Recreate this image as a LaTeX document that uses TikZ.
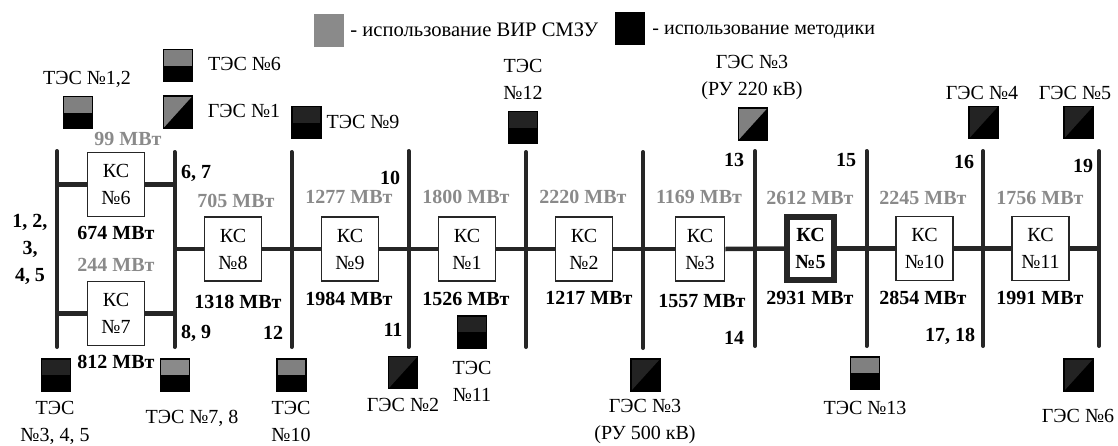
\documentclass[tikz,border=0pt]{standalone}
\usepackage{fontspec}
\setmainfont{Liberation Serif}
\usetikzlibrary{positioning}
\definecolor{busdark}{HTML}{262626}
\definecolor{virgray}{HTML}{8A8A8A}
\definecolor{icongray}{HTML}{808080}
\definecolor{icondark}{HTML}{232323}

\begin{document}
\begin{tikzpicture}[
  x=1pt,y=-1pt,
  every node/.style={inner sep=0pt,font=\fontsize{20}{27}\selectfont,align=center},
  kstan/.style={draw=busdark,line width=1.8pt,fill=white,minimum width=57pt,minimum height=64pt},
  kstanmain/.style={draw=busdark,line width=6pt,fill=white,minimum width=47pt,minimum height=63pt,font=\fontsize{20}{27}\selectfont\bfseries},
  tes/.style={draw=black,line width=1.5pt,fill=black,minimum width=29pt,minimum height=32pt,
    path picture={\fill[#1] (path picture bounding box.north west) rectangle (path picture bounding box.east);}},
  ges/.style={draw=black,line width=1.5pt,fill=black,minimum width=29pt,minimum height=32pt,
    path picture={\fill[#1] (path picture bounding box.north west) -- (path picture bounding box.north east) -- (path picture bounding box.south west) -- cycle;}},
  legend/.style={minimum width=30pt,minimum height=33pt},
  vir/.style={text=virgray,font=\fontsize{20}{27}\selectfont\bfseries},
  met/.style={font=\fontsize{20}{27}\selectfont\bfseries},
  lineno/.style={font=\fontsize{20}{27}\selectfont\bfseries},
  link/.style={draw=busdark,line width=4.5pt},
  bus/.style={draw=busdark,line width=4pt,line cap=round}
]
  \useasboundingbox (0,0) rectangle (1118,445);

  \node[legend,fill=virgray] (legvir) at (329,30.5) {};
  \node[right=6pt of legvir,yshift=1pt,font=\fontsize{20.6}{27}\selectfont] (legvirtext) {- использование ВИР СМЗУ};
  \node[legend,fill=black] (legmet) at (630,28.5) {};
  \node[right=7pt of legmet,yshift=-3pt] (legmettext) {- использование методики};

  \coordinate (bus1t) at (57,151);      \coordinate (bus1b) at (57,347);
  \coordinate (bus2t) at (174.5,152);   \coordinate (bus2b) at (174.5,347);
  \coordinate (bus3t) at (291.5,152);   \coordinate (bus3b) at (291.5,347);
  \coordinate (bus4t) at (408.5,151);   \coordinate (bus4b) at (408.5,347);
  \coordinate (bus5t) at (526,152);     \coordinate (bus5b) at (526,347);
  \coordinate (bus6t) at (643,152);     \coordinate (bus6b) at (643,348);
  \coordinate (bus7t) at (755,151);     \coordinate (bus7b) at (755,346);
  \coordinate (bus8t) at (866.5,151);   \coordinate (bus8b) at (866.5,346);
  \coordinate (bus9t) at (983,151);     \coordinate (bus9b) at (983,346);
  \coordinate (bus10t) at (1099,151);   \coordinate (bus10b) at (1099,346);

  \draw[bus] (bus1t) -- (bus1b);
  \draw[bus] (bus2t) -- (bus2b);
  \draw[bus] (bus3t) -- (bus3b);
  \draw[bus] (bus4t) -- (bus4b);
  \draw[bus] (bus5t) -- (bus5b);
  \draw[bus] (bus6t) -- (bus6b);
  \draw[bus] (bus7t) -- (bus7b);
  \draw[bus] (bus8t) -- (bus8b);
  \draw[bus] (bus9t) -- (bus9b);
  \draw[bus] (bus10t) -- (bus10b);

  \node[kstan] (ks6) at (116,184.5) {КС\\№6};
  \node[kstan] (ks7) at (116,313.5) {КС\\№7};
  \node[kstan] (ks8) at (233,249) {КС\\№8};
  \node[kstan] (ks9) at (350,249) {КС\\№9};
  \node[kstan] (ks1) at (467,249) {КС\\№1};
  \node[kstan] (ks2) at (584,249) {КС\\№2};
  \node[kstan,minimum width=49pt] (ks3) at (700,249) {КС\\№3};
  \node[kstanmain] (ks5) at (810.5,248.5) {КС\\№5};
  \node[kstan] (ks10) at (924.5,248.5) {КС\\№10};
  \node[kstan] (ks11) at (1040.5,248.5) {КС\\№11};

  \draw[link] (ks6.west) -- (ks6.west -| bus1t);
  \draw[link] (ks6.east) -- (ks6.east -| bus2t);
  \draw[link] (ks7.west) -- (ks7.west -| bus1t);
  \draw[link] (ks7.east) -- (ks7.east -| bus2t);
  \draw[link] (ks8.west -| bus2t) -- (ks8.west);
  \draw[link] (ks8.east) -- (ks9.west);
  \draw[link] (ks9.east) -- (ks1.west);
  \draw[link] (ks1.east) -- (ks2.west);
  \draw[link] (ks2.east) -- (ks3.west);
  \draw[link] (ks3.east) -- (ks5.west);
  \draw[link] (ks5.east) -- (ks10.west);
  \draw[link] (ks10.east) -- (ks11.west);
  \draw[link] (ks11.east) -- (ks11.east -| bus10t);

  \node[vir] (vir6) at (128,139) {99 МВт};
  \node[met] (met6) at (116,233) {674 МВт};
  \node[vir] (vir7) at (116,265) {244 МВт};
  \node[met] (met7) at (116,362) {812 МВт};
  \node[vir] (vir8) at (236,201) {705 МВт};
  \node[met] (met8) at (238,302) {1318 МВт};
  \node[vir] (vir9) at (349,197) {1277 МВт};
  \node[met] (met9) at (349,299) {1984 МВт};
  \node[vir] (vir1) at (466,197) {1800 МВт};
  \node[met] (met1) at (466,299) {1526 МВт};
  \node[vir] (vir2) at (583,197) {2220 МВт};
  \node[met] (met2) at (589,298) {1217 МВт};
  \node[vir] (vir3) at (699,197) {1169 МВт};
  \node[met] (met3) at (702,301) {1557 МВт};
  \node[vir] (vir5) at (810,198) {2612 МВт};
  \node[met] (met5) at (810,298) {2931 МВт};
  \node[vir] (vir10) at (923,198) {2245 МВт};
  \node[met] (met10) at (923,298) {2854 МВт};
  \node[vir] (vir11) at (1040,198) {1756 МВт};
  \node[met] (met11) at (1040,298) {1991 МВт};

  \node[lineno] (ln1) at (30,249.5) {1, 2,\\3,\\4, 5};
  \node[lineno] (ln6) at (196,173) {6, 7};
  \node[lineno] (ln8) at (196,333) {8, 9};
  \node[lineno] (ln10) at (390,178) {10};
  \node[lineno] (ln12) at (273,333) {12};
  \node[lineno] (ln11) at (393,330) {11};
  \node[lineno] (ln13) at (734,160) {13};
  \node[lineno] (ln14) at (734,338) {14};
  \node[lineno] (ln15) at (846,160) {15};
  \node[lineno] (ln16) at (964,162) {16};
  \node[lineno] (ln17) at (950,336) {17, 18};
  \node[lineno] (ln19) at (1083,166) {19};

  \node[tes=icongray] (tes12) at (78,112.5) {};
  \node (tes12text) at (87,79) {ТЭС №1,2};
  \node[tes=icongray] (tes6) at (178,65.5) {};
  \node (tes6text) at (244.5,64) {ТЭС №6};
  \node[ges=icongray] (ges1) at (178,112) {};
  \node (ges1text) at (244,111) {ГЭС №1};
  \node[tes=icondark] (tes9) at (306.5,122.5) {};
  \node (tes9text) at (363,122) {ТЭС №9};
  \node[tes=icondark] (tes12b) at (523,127.5) {};
  \node (tes12btext) at (523,79.5) {ТЭС\\№12};
  \node[ges=icongray] (ges3a) at (753,124) {};
  \node (ges3atext) at (752,78) {ГЭС №3\\(РУ 220 кВ)};
  \node[ges=icondark] (ges4) at (983.5,122.5) {};
  \node (ges4text) at (982,93) {ГЭС №4};
  \node[ges=icondark] (ges5) at (1078.5,122.5) {};
  \node (ges5text) at (1075,93) {ГЭС №5};

  \node[tes=icondark] (tes3) at (56,375) {};
  \node (tes3text) at (55,423) {ТЭС\\№3, 4, 5};
  \node[tes=virgray] (tes7) at (175,375) {};
  \node (tes7text) at (192,418) {ТЭС №7, 8};
  \node[tes=icongray] (tes10) at (291.5,375) {};
  \node (tes10text) at (291,421.5) {ТЭС\\№10};
  \node[ges=icondark] (ges2) at (403,372.5) {};
  \node (ges2text) at (403,405) {ГЭС №2};
  \node[tes=icondark] (tes11) at (472,332) {};
  \node (tes11text) at (472,381) {ТЭС\\№11};
  \node[ges=icondark] (ges3b) at (645.5,375) {};
  \node (ges3btext) at (645,421.5) {ГЭС №3\\(РУ 500 кВ)};
  \node[tes=icongray] (tes13) at (865,373) {};
  \node (tes13text) at (865,408) {ТЭС №13};
  \node[ges=icondark] (ges6) at (1078.5,375) {};
  \node (ges6text) at (1078,416) {ГЭС №6};
\end{tikzpicture}
\end{document}
